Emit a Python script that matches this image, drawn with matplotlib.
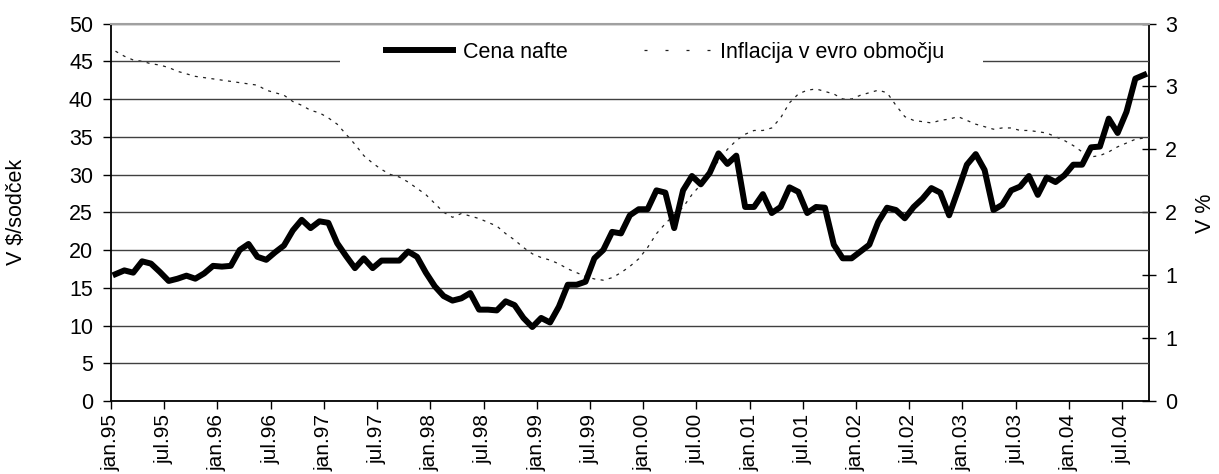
import matplotlib
matplotlib.use("Agg")
import matplotlib.pyplot as plt
from matplotlib.lines import Line2D
from matplotlib.patches import Rectangle
from matplotlib.ticker import FuncFormatter
import numpy as np

plt.rcParams['font.family'] = ['Liberation Sans', 'DejaVu Sans']

# monthly data, jan.95 .. sep.04
oil = [16.8, 17.3, 17.0, 18.5, 18.2, 17.1, 15.9, 16.2, 16.6, 16.2, 16.9, 17.9,
       17.8, 17.9, 20.0, 20.8, 19.1, 18.7, 19.7, 20.6, 22.6, 24.0, 22.9, 23.8,
       23.6, 20.9, 19.2, 17.6, 18.9, 17.6, 18.6, 18.6, 18.6, 19.8, 19.1, 17.0,
       15.2, 13.9, 13.3, 13.6, 14.3, 12.1, 12.1, 12.0, 13.2, 12.7, 11.0, 9.8,
       11.0, 10.4, 12.5, 15.4, 15.4, 15.8, 18.9, 20.0, 22.4, 22.2, 24.6, 25.4,
       25.4, 27.9, 27.6, 22.9, 27.9, 29.8, 28.7, 30.2, 32.8, 31.4, 32.5, 25.7,
       25.7, 27.4, 24.9, 25.7, 28.3, 27.7, 24.9, 25.7, 25.6, 20.7, 18.9, 18.9,
       19.8, 20.7, 23.7, 25.6, 25.3, 24.2, 25.7, 26.8, 28.2, 27.6, 24.6, 27.9,
       31.3, 32.7, 30.6, 25.3, 26.0, 27.9, 28.4, 29.8, 27.3, 29.6, 29.0, 29.9,
       31.3, 31.3, 33.6, 33.7, 37.4, 35.5, 38.3, 42.7, 43.2]

inflation = [2.78, 2.74, 2.71, 2.70, 2.68, 2.67, 2.65, 2.62, 2.60, 2.58, 2.57, 2.56,
             2.55, 2.54, 2.53, 2.52, 2.51, 2.47, 2.45, 2.43, 2.38, 2.35, 2.31, 2.29,
             2.25, 2.20, 2.12, 2.04, 1.95, 1.89, 1.84, 1.80, 1.78, 1.74, 1.69, 1.64,
             1.57, 1.50, 1.46, 1.49, 1.47, 1.45, 1.42, 1.39, 1.33, 1.28, 1.22, 1.17,
             1.14, 1.12, 1.09, 1.05, 1.02, 0.99, 0.97, 0.96, 0.98, 1.02, 1.07, 1.13,
             1.22, 1.33, 1.41, 1.48, 1.54, 1.64, 1.72, 1.81, 1.91, 2.00, 2.07, 2.12,
             2.15, 2.15, 2.17, 2.25, 2.37, 2.44, 2.47, 2.48, 2.46, 2.44, 2.40, 2.40,
             2.43, 2.45, 2.47, 2.45, 2.35, 2.26, 2.23, 2.22, 2.21, 2.23, 2.24, 2.26,
             2.23, 2.20, 2.18, 2.16, 2.17, 2.17, 2.15, 2.15, 2.14, 2.13, 2.10, 2.07,
             2.03, 1.98, 1.94, 1.95, 1.98, 2.02, 2.05, 2.08, 2.09]

tick_labels = ["jan.95", "jul.95", "jan.96", "jul.96", "jan.97", "jul.97",
               "jan.98", "jul.98", "jan.99", "jul.99", "jan.00", "jul.00",
               "jan.01", "jul.01", "jan.02", "jul.02", "jan.03", "jul.03",
               "jan.04", "jul.04"]

n = len(oil)
x = np.arange(n) + 0.5
fs = 15.5

fig = plt.figure(figsize=(12.19, 4.74), dpi=100)
ax = fig.add_axes([0.0911, 0.154, 0.9423 - 0.0911, 0.9504 - 0.154])
ax2 = ax.twinx()

ax.set_xlim(0, n)
ax.set_ylim(0, 50)
ax.set_yticks(np.arange(0, 51, 5))
ax.set_xticks(np.arange(0, 6 * len(tick_labels), 6))
ax.set_xticklabels(tick_labels, rotation=90, fontsize=15)
ax.tick_params(axis='x', direction='out', length=6, width=1, pad=3, colors='black')
ax.tick_params(axis='y', direction='out', length=6, width=1, pad=7, labelsize=fs)
ax.yaxis.grid(True, color='#404040', linewidth=1)
ax.set_axisbelow(True)
for s in ['left', 'bottom']:
    ax.spines[s].set_linewidth(1.3)
ax.spines['top'].set_color('#a0a0a0')
ax.spines['top'].set_linewidth(1.5)
ax.spines['right'].set_visible(False)

ax2.set_ylim(0, 3)
ax2.set_yticks(np.arange(0, 3.01, 0.5))
ax2.yaxis.set_major_formatter(FuncFormatter(lambda v, p: "%d" % int(np.floor(v + 0.5))))
ax2.tick_params(axis='y', direction='inout', length=10, width=1, pad=7, labelsize=fs)
ax2.spines['right'].set_linewidth(1.3)
ax2.spines['top'].set_visible(False)
ax2.spines['left'].set_visible(False)
ax2.spines['bottom'].set_visible(False)

# white area behind legend
ax.add_patch(Rectangle((0.2207, 0.86), 0.8403 - 0.2207, 0.11, transform=ax.transAxes,
                       facecolor='white', edgecolor='none', zorder=1.5))

ax2.plot(x, inflation, color='#202020', linewidth=0.9, linestyle=(0, (2.4, 4.3)))
ax.plot(x, oil, color='black', linewidth=4.3)
ax.set_zorder(ax2.get_zorder() + 1)
ax.patch.set_visible(False)

ax.set_ylabel("V $/sodček", fontsize=fs)
ax.yaxis.set_label_coords(-0.081, 0.50)
ax2.set_ylabel("V %", fontsize=fs)
ax2.yaxis.set_label_coords(1.045, 0.498)

handles = [Line2D([], [], color='black', linewidth=4.3),
           Line2D([], [], color='#202020', linewidth=0.9, linestyle=(0, (2.4, 14.4)))]
ax.legend(handles, ["Cena nafte", "Inflacija v evro območju"], ncol=2, frameon=False,
          loc='center', bbox_to_anchor=(0.5344, 0.9245), fontsize=fs,
          handlelength=3.1, handletextpad=0.45, columnspacing=3.55)

fig.savefig("out.png", dpi=100)
